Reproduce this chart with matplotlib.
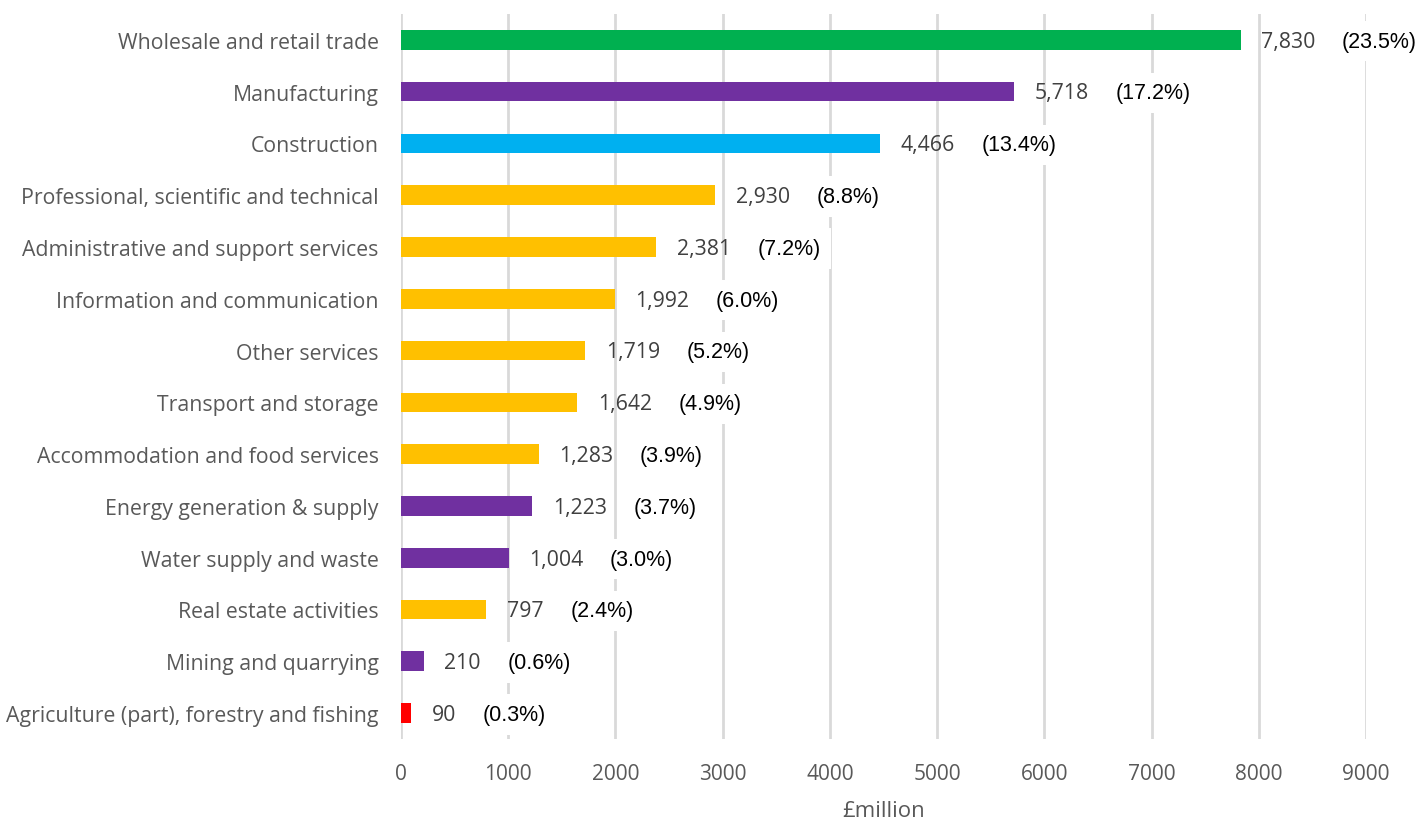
import matplotlib
matplotlib.use('Agg')
import matplotlib.pyplot as plt

# data, top to bottom as in the chart
sectors = ['Wholesale and retail trade', 'Manufacturing', 'Construction',
           'Professional, scientific and technical', 'Administrative and support services',
           'Information and communication', 'Other services', 'Transport and storage',
           'Accommodation and food services', 'Energy generation & supply',
           'Water supply and waste', 'Real estate activities', 'Mining and quarrying',
           'Agriculture (part), forestry and fishing']
values = [7830, 5718, 4466, 2930, 2381, 1992, 1719, 1642, 1283, 1223, 1004, 797, 210, 90]
shares = [23.5, 17.2, 13.4, 8.8, 7.2, 6.0, 5.2, 4.9, 3.9, 3.7, 3.0, 2.4, 0.6, 0.3]
groups = ['green', 'purple', 'blue', 'yellow', 'yellow', 'yellow', 'yellow', 'yellow',
          'yellow', 'purple', 'purple', 'yellow', 'purple', 'red']
xticks = [0, 1000, 2000, 3000, 4000, 5000, 6000, 7000, 8000, 9000]

palette = {'green': '#00B050', 'purple': '#7030A0', 'blue': '#00B0F0',
           'yellow': '#FFC000', 'red': '#FF0000'}
font = 'Open Sans'

fig = plt.figure(figsize=(14.22, 8.2), dpi=100)
ax = fig.add_axes([0.282, 0.0976, 0.6786, 0.8842])

ypos = list(range(len(sectors)))[::-1]
ax.barh(ypos, values, height=0.38, color=[palette[g] for g in groups], zorder=3)

ax.set_xlim(0, 9000)
ax.set_ylim(-0.5, len(sectors) - 0.5)
ax.set_xticks(xticks)
ax.set_xticklabels([str(t) for t in xticks], fontsize=15, color='#595959', family=font)
ax.set_yticks(ypos)
ax.set_yticklabels(sectors, fontsize=15.3, color='#595959', family=font)
ax.tick_params(length=0, pad=17)
ax.tick_params(axis='y', pad=16)
ax.grid(axis='x', color='#D9D9D9', linewidth=2, zorder=0)
for s in ax.spines.values():
    s.set_visible(False)
ax.set_xlabel('£million', fontsize=16, color='#595959', family=font, labelpad=12)

for y, v, p in zip(ypos, values, shares):
    t = ax.annotate(f'{v:,}', xy=(v, y), xytext=(15, -1), textcoords='offset points',
                    va='center', ha='left', fontsize=15.3, color='#404040', family=font,
                    zorder=4)
    ax.annotate(f'({p:.1f}%)', xy=(1, 0.5), xycoords=t, xytext=(19, 0),
                textcoords='offset points', va='center', ha='left', fontsize=15.5,
                color='black', family='Liberation Sans', zorder=5,
                bbox=dict(boxstyle='square,pad=0.45', fc='white', ec='none'))

fig.savefig('out.png', dpi=100)
